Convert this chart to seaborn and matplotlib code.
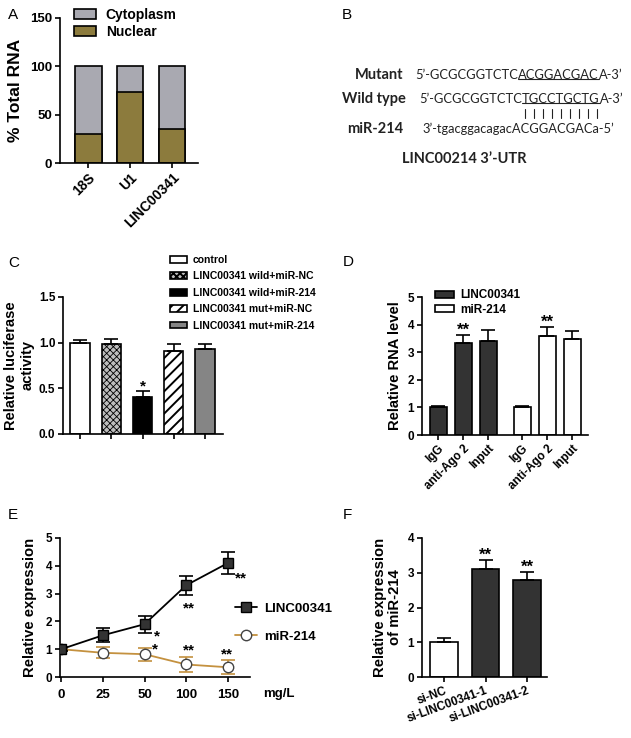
import numpy as np
import matplotlib
matplotlib.use("Agg")
import matplotlib.pyplot as plt
from matplotlib.lines import Line2D
import seaborn as sns

# A: nuclear / cytoplasmic fractionation
loc_genes = ["18S", "U1", "LINC00341"]
nuclear_pct = [30, 73, 35]
cytoplasm_pct = [70, 27, 65]

# B: binding site sequences
seq_labels = ["Mutant", "Wild type", "miR-214"]
mutant_seq = ["5’-GCGCGGTCTC", "ACGGACGAC", "A-3’"]
wild_seq = ["5’-GCGCGGTCTC", "TGCCTGCTG", "A-3’"]
mir_seq = ["3’-tgacggacagacACGGACGACa-5’"]
utr_title = "LINC00214 3’-UTR"

# C: luciferase reporter
luc_groups = ["control", "LINC00341 wild+miR-NC", "LINC00341 wild+miR-214",
              "LINC00341 mut+miR-NC", "LINC00341 mut+miR-214"]
luc_mean = [1.00, 0.98, 0.40, 0.91, 0.93]
luc_err = [0.03, 0.06, 0.07, 0.07, 0.06]
luc_stars = ["", "", "*", "", ""]

# D: RIP assay
rip_ticks = ["IgG", "anti-Ago 2", "Input"]
rip_linc = [1.00, 3.33, 3.42]
rip_linc_err = [0.04, 0.30, 0.40]
rip_mir = [1.00, 3.60, 3.48]
rip_mir_err = [0.05, 0.30, 0.28]
rip_stars = ["", "**", ""]

# E: dose response
doses = ["0", "25", "50", "100", "150"]
dose_linc = [1.0, 1.5, 1.9, 3.3, 4.1]
dose_linc_err = [0.07, 0.25, 0.30, 0.35, 0.40]
dose_mir = [1.0, 0.87, 0.82, 0.45, 0.35]
dose_mir_err = [0.05, 0.20, 0.24, 0.27, 0.25]
dose_linc_stars = ["", "", "*", "**", "**"]
dose_mir_stars = ["", "", "*", "**", "**"]

# F: knockdown
si_groups = ["si-NC", "si-LINC00341-1", "si-LINC00341-2"]
si_mean = [1.0, 3.1, 2.8]
si_err = [0.12, 0.27, 0.23]
si_stars = ["", "**", "**"]

sns.set_theme(style="ticks")
plt.rcParams.update({
    "font.family": ["Liberation Sans", "DejaVu Sans"],
    "font.weight": "bold",
    "axes.labelweight": "bold",
    "text.color": "black",
    "axes.labelcolor": "black",
    "axes.edgecolor": "black",
    "axes.linewidth": 1.2,
    "xtick.color": "black",
    "ytick.color": "black",
    "xtick.major.width": 1.2,
    "ytick.major.width": 1.2,
    "xtick.major.size": 3.5,
    "ytick.major.size": 3.5,
    "xtick.major.pad": 2,
    "ytick.major.pad": 2,
    "hatch.linewidth": 1.4,
    "legend.frameon": False,
})

W, H = 631, 738
fig = plt.figure(figsize=(W / 100, H / 100), dpi=100)
renderer = fig.canvas.get_renderer()


def add_ax(l, t, r, b):
    ax = fig.add_axes([l / W, 1 - b / H, (r - l) / W, (b - t) / H])
    sns.despine(ax=ax)
    return ax


def bold_ticks(ax):
    for t in ax.get_xticklabels() + ax.get_yticklabels():
        t.set_fontweight("bold")


def letter(x, y, s):
    fig.text(x / W, 1 - y / H, s, fontsize=11, fontweight="normal", va="center", ha="left")


def up_err(ax, x, y, err, color="black"):
    ax.errorbar(x, y, yerr=[np.zeros(len(err)), err], fmt="none", ecolor=color,
                elinewidth=1.2, capsize=5, capthick=1.2, zorder=1)


def stars(ax, x, y, err, marks, size=12):
    for xi, yi, ei, m in zip(x, y, err, marks):
        if m:
            ax.annotate(m, xy=(xi, yi + ei), xytext=(0, -2), textcoords="offset points",
                        ha="center", va="bottom", fontsize=size, fontweight="bold")


# ---------- A ----------
letter(8, 15, "A")
ax = add_ax(60, 18, 198, 163)
total = np.add(nuclear_pct, cytoplasm_pct)
sns.barplot(x=loc_genes, y=total, color="#a9a9b1", saturation=1, edgecolor="black",
            linewidth=1.2, width=0.64, ax=ax, label="Cytoplasm")
sns.barplot(x=loc_genes, y=nuclear_pct, color="#8c7b3d", saturation=1, edgecolor="black",
            linewidth=1.2, width=0.64, ax=ax, label="Nuclear")
ax.set_ylim(0, 150)
ax.set_yticks([0, 50, 100, 150])
ax.set_xlim(-0.67, 2.62)
ax.set_xticks(range(len(loc_genes)))
ax.set_xticklabels(loc_genes, rotation=45, ha="right", rotation_mode="anchor", fontsize=10)
ax.tick_params(axis="y", labelsize=9.5)
ax.set_ylabel("% Total RNA", fontsize=12.5, labelpad=5)
ax.set_xlabel("")
bold_ticks(ax)
ax.legend(loc="upper left", bbox_to_anchor=(0.1, 1.07), fontsize=10, handlelength=1.6,
          handleheight=0.7, labelspacing=0.2, handletextpad=0.7, borderpad=0, borderaxespad=0)

# ---------- B ----------
letter(342, 15, "B")
fam = ["Lato", "DejaVu Sans"]
rows = [(75, 403, 415, mutant_seq), (99, 406, 419, wild_seq), (129, 403, 422, mir_seq)]
seg_boxes = []
for (yc, lx, sx, parts), lab in zip(rows, seq_labels):
    fig.text(lx / W, 1 - yc / H, lab, ha="right", va="center", fontweight="bold",
             fontsize=10.5, family=fam, color="#222222")
    cur = sx
    boxes = []
    for p in parts:
        t = fig.text(cur / W, 1 - yc / H, p, ha="left", va="center", fontweight="normal",
                     fontsize=9.3, family=fam, color="#222222")
        bb = t.get_window_extent(renderer)
        boxes.append(bb)
        cur = bb.x1
    seg_boxes.append(boxes)
for boxes in seg_boxes[:2]:
    bb = boxes[1]
    yl = bb.y0 + 2.5
    fig.add_artist(Line2D([bb.x0 / W, bb.x1 / W], [yl / H, yl / H], transform=fig.transFigure,
                          lw=0.8, color="#222222"))
bb = seg_boxes[1][1]
for xp in np.linspace(bb.x0 + 3, bb.x1 - 3, len(wild_seq[1])):
    fig.add_artist(Line2D([xp / W, xp / W], [1 - 109 / H, 1 - 118 / H], transform=fig.transFigure,
                          lw=0.8, color="#222222"))
fig.text(402 / W, 1 - 159 / H, utr_title, ha="left", va="center", fontweight="bold",
         fontsize=10.5, family=fam, color="#222222")

# ---------- C ----------
letter(8, 263, "C")
ax = add_ax(63, 297, 223, 434)
luc_colors = ["white", "#bdbdbd", "black", "white", "#858585"]
luc_hatches = ["", "xxxxx", "", "///", ""]
sns.barplot(x=luc_groups, y=luc_mean, hue=luc_groups, palette=luc_colors, saturation=1,
            edgecolor="black", linewidth=1.2, width=0.62, legend=False, ax=ax)
for bar, h in zip(ax.patches, luc_hatches):
    bar.set_hatch(h)
    if h.startswith("x") and hasattr(bar, "set_hatch_linewidth"):
        bar.set_hatch_linewidth(0.6)
up_err(ax, np.arange(len(luc_mean)), luc_mean, luc_err)
stars(ax, np.arange(len(luc_mean)), luc_mean, luc_err, luc_stars, size=11)
ax.set_ylim(0, 1.5)
ax.set_yticks([0, 0.5, 1.0, 1.5])
ax.set_yticklabels(["0.0", "0.5", "1.0", "1.5"])
ax.set_xlim(-0.55, 4.58)
ax.set_xticks(range(len(luc_groups)))
ax.set_xticklabels([])
ax.tick_params(axis="y", labelsize=8.5)
ax.set_ylabel("Relative luciferase\nactivity", fontsize=10.5, labelpad=3, linespacing=1.2)
bold_ticks(ax)
fig.legend(handles=ax.patches[:len(luc_groups)], labels=luc_groups, loc="upper left",
           bbox_to_anchor=(170 / W, 1 - 255 / H), fontsize=7.5, handlelength=1.6,
           handleheight=0.6, labelspacing=0.62, handletextpad=0.6, borderpad=0, borderaxespad=0)

# ---------- D ----------
letter(343, 262, "D")
ax = add_ax(422, 297, 588, 435)
pos1 = np.arange(len(rip_ticks))
pos2 = pos1 + len(rip_ticks) + 0.36
sns.barplot(x=pos1, y=rip_linc, native_scale=True, color="#333333", saturation=1,
            edgecolor="black", linewidth=1.2, width=0.68, ax=ax, label="LINC00341")
sns.barplot(x=pos2, y=rip_mir, native_scale=True, color="white", saturation=1,
            edgecolor="black", linewidth=1.2, width=0.68, ax=ax, label="miR-214")
up_err(ax, pos1, rip_linc, rip_linc_err)
up_err(ax, pos2, rip_mir, rip_mir_err)
stars(ax, pos1, rip_linc, rip_linc_err, rip_stars)
stars(ax, pos2, rip_mir, rip_mir_err, rip_stars)
ax.set_ylim(0, 5)
ax.set_yticks(range(6))
ax.set_xlim(-0.64, pos2[-1] + 0.64)
ax.set_xticks(np.concatenate([pos1, pos2]))
ax.set_xticklabels(rip_ticks * 2, rotation=45, ha="right", rotation_mode="anchor", fontsize=8.5)
ax.tick_params(axis="y", labelsize=8.5)
ax.set_ylabel("Relative RNA level", fontsize=10.6, labelpad=4)
ax.set_xlabel("")
bold_ticks(ax)
ax.legend(loc="upper left", bbox_to_anchor=(0.08, 1.055), fontsize=8.5, handlelength=1.6,
          handleheight=0.6, labelspacing=0.2, handletextpad=0.5, borderpad=0, borderaxespad=0)

# ---------- E ----------
letter(8, 515, "E")
ax = add_ax(60, 538, 250, 677)
xpos = np.arange(len(doses))
tan = "#c4913f"
ax.errorbar(xpos, dose_mir, yerr=dose_mir_err, fmt="none", ecolor=tan, elinewidth=1.2,
            capsize=5, capthick=1.2, zorder=2)
sns.lineplot(x=xpos, y=dose_mir, color=tan, marker="o", markersize=7.5, markerfacecolor="white",
             markeredgecolor="#444444", markeredgewidth=1, linewidth=1.3, label="miR-214",
             ax=ax, zorder=3)
ax.errorbar(xpos, dose_linc, yerr=dose_linc_err, fmt="none", ecolor="black", elinewidth=1.2,
            capsize=5, capthick=1.2, zorder=4)
sns.lineplot(x=xpos, y=dose_linc, color="black", marker="s", markersize=7, markerfacecolor="#333333",
             markeredgecolor="black", markeredgewidth=1, linewidth=1.3, label="LINC00341",
             ax=ax, zorder=5)
linc_offsets = [(0, 0), (0, 0), (8.6, -8.5), (2, -16.5), (9.4, -11)]
mir_offsets = [(0, 0), (0, 0), (7.2, 3.5), (2, 10), (-0.7, 9.5)]
for xi, yi, m, off in zip(xpos, dose_linc, dose_linc_stars, linc_offsets):
    if m:
        ax.annotate(m, xy=(xi, yi), xytext=off, textcoords="offset points", ha="center",
                    va="center", fontsize=11)
for xi, yi, m, off in zip(xpos, dose_mir, dose_mir_stars, mir_offsets):
    if m:
        ax.annotate(m, xy=(xi, yi), xytext=off, textcoords="offset points", ha="center",
                    va="center", fontsize=11)
ax.set_ylim(0, 5)
ax.set_yticks(range(6))
ax.set_xlim(-0.03, 4.53)
ax.set_xticks(xpos)
ax.set_xticklabels(doses, fontsize=9.5)
ax.tick_params(axis="x", pad=5)
ax.tick_params(axis="y", labelsize=8.5)
ax.set_ylabel("Relative expression", fontsize=10.7, labelpad=6)
bold_ticks(ax)
ax.text(1.07, -0.12, "mg/L", transform=ax.transAxes, ha="left", va="center", fontsize=9.5)
h, l = ax.get_legend_handles_labels()
ax.legend(h[::-1], l[::-1], loc="center left", bbox_to_anchor=(0.92, 0.39), fontsize=9.5,
          handlelength=1.7, labelspacing=1.2, handletextpad=0.5, borderpad=0, borderaxespad=0)

# ---------- F ----------
letter(343, 515, "F")
ax = add_ax(422, 538, 547, 677)
sns.barplot(x=si_groups, y=si_mean, hue=si_groups, palette=["white", "#333333", "#333333"],
            saturation=1, edgecolor="black", linewidth=1.2, width=0.67, legend=False, ax=ax)
up_err(ax, np.arange(len(si_mean)), si_mean, si_err)
stars(ax, np.arange(len(si_mean)), si_mean, si_err, si_stars)
ax.set_ylim(0, 4)
ax.set_yticks(range(5))
ax.set_xlim(-0.53, 2.48)
ax.set_xticks(range(len(si_groups)))
ax.set_xticklabels(si_groups, rotation=20, ha="right", rotation_mode="anchor", fontsize=8.5)
ax.tick_params(axis="y", labelsize=8.5)
ax.set_ylabel("Relative expression\nof miR-214", fontsize=10.7, labelpad=4, linespacing=1.1)
bold_ticks(ax)

fig.savefig("out.png", dpi=100, facecolor="white")
